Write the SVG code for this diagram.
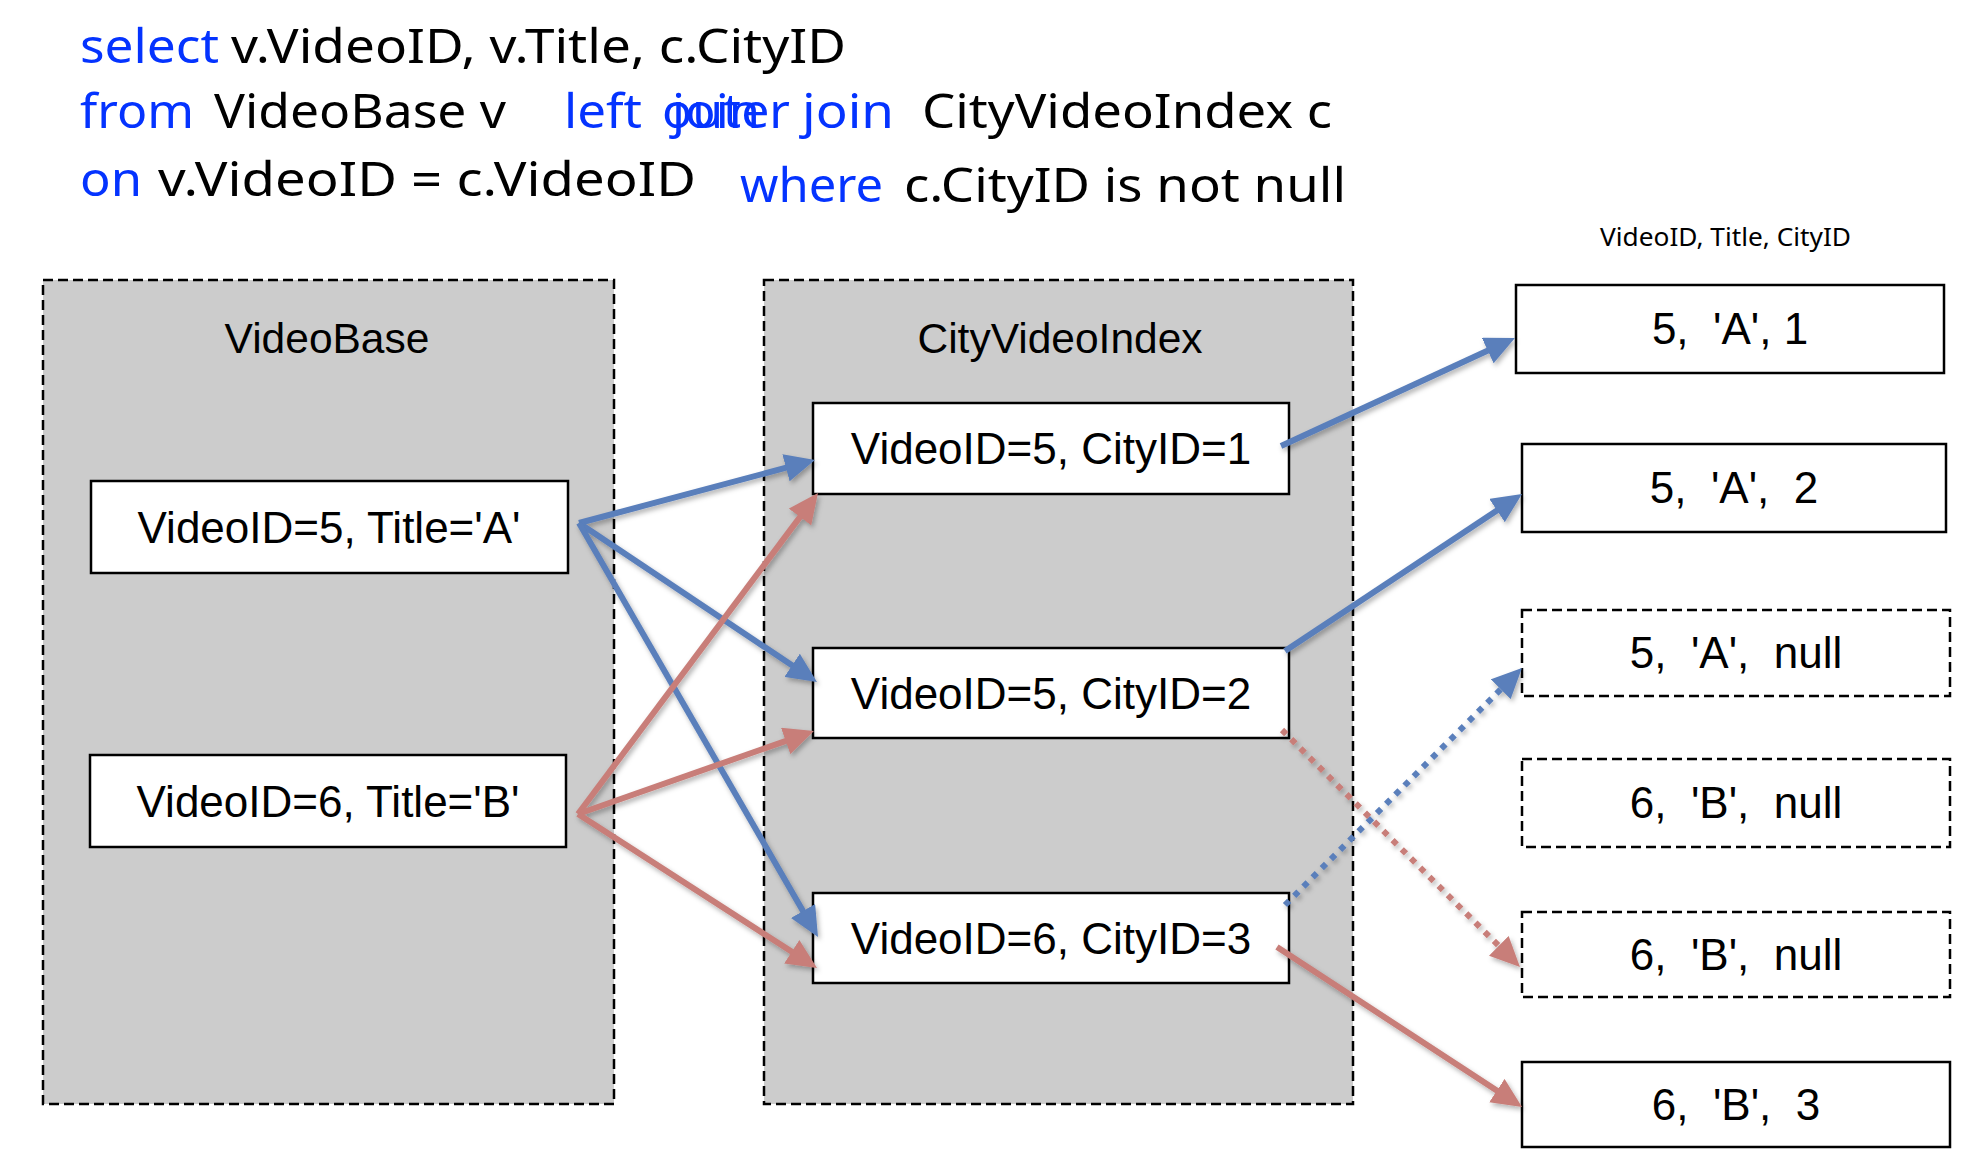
<svg xmlns="http://www.w3.org/2000/svg" width="1980" height="1172" viewBox="0 0 1980 1172">
<defs>
<style>
.sql{font-family:"Noto Sans","Open Sans","DejaVu Sans",sans-serif;font-size:48px;fill:#000}
.kw{fill:#0433ff}
.cont{fill:#cccccc;stroke:#000;stroke-width:2.5;stroke-dasharray:10 5}
.title{font-family:"Liberation Sans",Arial,sans-serif;font-size:42.5px;fill:#000;text-anchor:middle}
.box{fill:#fff;stroke:#000;stroke-width:2.5}
.dbox{fill:#fff;stroke:#000;stroke-width:2.5;stroke-dasharray:10 5}
.lbl{font-family:"Liberation Sans",Arial,sans-serif;font-size:44px;fill:#000;text-anchor:middle;white-space:pre}
.hdr{font-family:"Noto Sans","Open Sans",sans-serif;font-size:25px;fill:#000}
.blue{fill:none;stroke:#5a7fbb;stroke-width:6;marker-end:url(#ab)}
.red{fill:none;stroke:#c87e79;stroke-width:6;marker-end:url(#ar)}
.dot{stroke-width:6;stroke-dasharray:6 7}
</style>
<marker id="ab" markerUnits="userSpaceOnUse" markerWidth="30" markerHeight="28" viewBox="0 0 30 28" refX="8" refY="14" orient="auto"><path d="M0,0 L30,14 L0,28 z" fill="#5a7fbb"/></marker>
<marker id="ar" markerUnits="userSpaceOnUse" markerWidth="30" markerHeight="28" viewBox="0 0 30 28" refX="8" refY="14" orient="auto"><path d="M0,0 L30,14 L0,28 z" fill="#c87e79"/></marker>
<filter id="sh" x="-10%" y="-10%" width="120%" height="120%"><feDropShadow dx="2" dy="3" stdDeviation="2.5" flood-color="#000" flood-opacity="0.3"/></filter>
</defs>
<rect width="1980" height="1172" fill="#fff"/>

<g id="sql">
<text class="sql kw" x="80" y="63" textLength="139" lengthAdjust="spacingAndGlyphs">select</text>
<text class="sql" x="231" y="63" textLength="615" lengthAdjust="spacingAndGlyphs">v.VideoID, v.Title, c.CityID</text>
<text class="sql kw" x="80" y="128" textLength="114" lengthAdjust="spacingAndGlyphs">from</text>
<text class="sql" x="214" y="128" textLength="292" lengthAdjust="spacingAndGlyphs">VideoBase v</text>
<text class="sql kw" x="564" y="128" textLength="78" lengthAdjust="spacingAndGlyphs">left</text>
<text class="sql kw" x="672" y="128" textLength="88" lengthAdjust="spacingAndGlyphs">join</text>
<text class="sql kw" x="662" y="128" textLength="128" lengthAdjust="spacingAndGlyphs">outer</text>
<text class="sql kw" x="802" y="128" textLength="92" lengthAdjust="spacingAndGlyphs">join</text>
<text class="sql" x="922" y="128" textLength="410" lengthAdjust="spacingAndGlyphs">CityVideoIndex c</text>
<text class="sql kw" x="80" y="196" textLength="62" lengthAdjust="spacingAndGlyphs">on</text>
<text class="sql" x="158" y="196" textLength="538" lengthAdjust="spacingAndGlyphs">v.VideoID = c.VideoID</text>
<text class="sql kw" x="740" y="202" textLength="143" lengthAdjust="spacingAndGlyphs">where</text>
<text class="sql" x="904" y="202" textLength="442" lengthAdjust="spacingAndGlyphs">c.CityID is not null</text>
</g>

<g id="VideoBase">
<rect class="cont" x="43" y="280" width="571" height="824"/>
<text class="title" x="327" y="353">VideoBase</text>
</g>
<g id="CityVideoIndex">
<rect class="cont" x="764" y="280" width="589" height="824"/>
<text class="title" x="1060" y="353">CityVideoIndex</text>
</g>

<g id="v5">
<rect class="box" x="91" y="481" width="477" height="92"/>
<text class="lbl" x="329" y="543">VideoID=5, Title='A'</text>
</g>
<g id="v6">
<rect class="box" x="90" y="755" width="476" height="92"/>
<text class="lbl" x="328" y="817">VideoID=6, Title='B'</text>
</g>

<g id="c1">
<rect class="box" x="813" y="403" width="476" height="91"/>
<text class="lbl" x="1051" y="464">VideoID=5, CityID=1</text>
</g>
<g id="c2">
<rect class="box" x="813" y="648" width="476" height="90"/>
<text class="lbl" x="1051" y="709">VideoID=5, CityID=2</text>
</g>
<g id="c3">
<rect class="box" x="813" y="893" width="476" height="90"/>
<text class="lbl" x="1051" y="954">VideoID=6, CityID=3</text>
</g>

<g id="header">
<text class="hdr" x="1600" y="246" textLength="251" lengthAdjust="spacingAndGlyphs">VideoID, Title, CityID</text>
</g>

<g id="r1">
<rect class="box" x="1516" y="285" width="428" height="88"/>
<text class="lbl" x="1730" y="344" xml:space="preserve">5,  'A', 1</text>
</g>
<g id="r2">
<rect class="box" x="1522" y="444" width="424" height="88"/>
<text class="lbl" x="1734" y="503" xml:space="preserve">5,  'A',  2</text>
</g>
<g id="r3">
<rect class="dbox" x="1522" y="610" width="428" height="86"/>
<text class="lbl" x="1736" y="668" xml:space="preserve">5,  'A',  null</text>
</g>
<g id="r4">
<rect class="dbox" x="1522" y="759" width="428" height="88"/>
<text class="lbl" x="1736" y="818" xml:space="preserve">6,  'B',  null</text>
</g>
<g id="r5">
<rect class="dbox" x="1522" y="912" width="428" height="85"/>
<text class="lbl" x="1736" y="970" xml:space="preserve">6,  'B',  null</text>
</g>
<g id="r6">
<rect class="box" x="1522" y="1062" width="428" height="85"/>
<text class="lbl" x="1736" y="1120" xml:space="preserve">6,  'B',  3</text>
</g>

<g id="connectors" filter="url(#sh)">
<path class="blue" d="M579,523 L793.7,465.7"/>
<path class="blue" d="M579,523 L798.7,669.8"/>
<path class="blue" d="M579,523 L807,917.9"/>
<path class="red" d="M578,814 L804.8,510.6"/>
<path class="red" d="M578,814 L793.2,738.3"/>
<path class="red" d="M578,814 L798.5,956.1"/>
<path class="blue" d="M1281,446 L1495,347.2"/>
<path class="blue" d="M1285,651 L1503.7,506.1"/>
<path class="blue dot" d="M1285,905 L1506.4,683.6"/>
<path class="red dot" d="M1282,730 L1504.4,951.5"/>
<path class="red" d="M1277,947 L1503.6,1095"/>
</g>
</svg>
